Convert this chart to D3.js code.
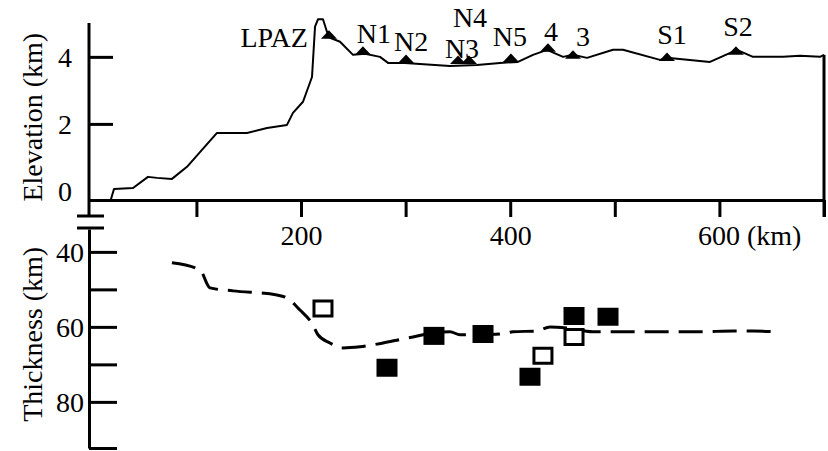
<!DOCTYPE html>
<html>
<head>
<meta charset="utf-8">
<script src="https://cdn.jsdelivr.net/npm/d3@7"></script>
<style>
  body { margin: 0; background: #fff; }
</style>
</head>
<body>
<div id="chart"></div>
<script>
// elevation profile (km along profile, km elevation)
const profileKm = [18.3, 21.2, 39.4, 53.7, 62.3, 76.6, 91.0, 103.4, 119.7, 135.0, 148.4, 167.5, 186.6,
    192.3, 201.9, 210.5, 213.4, 216.2, 221.0, 224.8, 227.7, 237.3, 249.7, 261.2, 275.5, 283.2, 299.4,
    342.4, 368.2, 390.2, 407.4, 421.8, 435.2, 450.5, 460.0, 473.4, 498.3, 507.8, 543.2, 549.9, 591.0,
    616.8, 632.1, 660.8, 677.0, 696.2, 700];
const profileElev = [-0.25, 0.06, 0.09, 0.42, 0.39, 0.36, 0.72, 1.16, 1.73, 1.73, 1.73, 1.88, 1.97,
    2.33, 2.66, 3.40, 4.90, 5.12, 5.12, 4.75, 4.57, 4.45, 4.06, 4.09, 4.00, 3.82, 3.82,
    3.73, 3.76, 3.82, 3.85, 4.06, 4.21, 4.00, 4.06, 3.97, 4.21, 4.21, 3.91, 3.97, 3.85,
    4.21, 4.00, 4.00, 4.03, 4.00, 4.06];

// stations
const stationNames = ['LPAZ', 'N1', 'N2', 'N3', 'N4', 'N5', '4', '3', 'S1', 'S2'];
const stationKm = [226.7, 259.2, 300.4, 350.1, 360.6, 400.7, 436.1, 460.0, 549.9, 615.8];
const stationElev = [4.54, 4.06, 3.82, 3.79, 3.79, 3.85, 4.15, 3.94, 3.88, 4.06];

// crustal thickness, dashed curve
const thickKm = [76.6, 103.4, 113.0, 135.0, 177.0, 186.6, 199.0, 211.4, 216.2, 227.7, 240.1, 256.4,
    278.4, 297.5, 307.1, 326.2, 342.4, 352.0, 374.0, 390.2, 402.7, 425.6, 438.0, 454.3, 479.1,
    517.4, 549.9, 581.4, 613.0, 632.1, 656.0];
const thickVal = [42.9, 44.8, 49.6, 50.4, 51.5, 52.3, 55.5, 59.5, 62.1, 64.3, 65.6, 65.3,
    64.3, 63.2, 62.7, 61.6, 61.3, 62.1, 62.1, 61.9, 61.3, 61.1, 60.0, 60.3, 61.3,
    61.3, 61.3, 61.3, 61.1, 61.1, 61.3];

// thickness estimates (squares)
const filledKm = [282.2, 327.1, 374.0, 461.0, 493.5, 418.9];
const filledVal = [70.9, 62.4, 61.9, 57.1, 57.3, 73.3];
const openKm = [221.0, 461.0, 431.3];
const openVal = [55.1, 62.7, 67.7];

const xTicks = [100, 200, 300, 400, 500, 600, 700];
const xLabels = {200: '200', 400: '400', 600: '600 (km)'};
const elevTicks = [0, 2, 4];
const thickTicks = [40, 50, 60, 70, 80, 92.3];
const thickLabels = {40: '40', 60: '60', 80: '80'};

const width = 828, height = 451;
const font = '"Liberation Serif", "Times New Roman", "DejaVu Serif", serif';
const svg = d3.select('#chart').append('svg')
    .attr('width', width)
    .attr('height', height)
    .attr('font-family', font);

svg.append('rect').attr('width', width).attr('height', height).attr('fill', '#fff');

const x = d3.scaleLinear().domain([-2.7, 700]).range([89, 824]);
const yE = d3.scaleLinear().domain([-0.27, 5.01]).range([200, 23]);
const yT = d3.scaleLinear().domain([33.9, 92.3]).range([229, 448]);

const fs = 28;

// x axis (shared, between panels)
const xAxis = svg.append('g')
    .attr('transform', `translate(0,${yE(-0.27)})`)
    .call(d3.axisBottom(x).tickValues(xTicks).tickSize(17).tickSizeOuter(0)
        .tickFormat(d => xLabels[d] || ''));
xAxis.attr('font-family', font);
xAxis.select('.domain').attr('stroke-width', 3);
xAxis.selectAll('.tick line').attr('stroke-width', 3);
xAxis.selectAll('.tick text')
    .attr('font-size', fs)
    .attr('y', 45).attr('dy', 0)
    .attr('text-anchor', d => d === 600 ? 'start' : 'middle')
    .attr('x', d => d === 600 ? -22 : 0);

// elevation axis
const eAxis = svg.append('g')
    .attr('transform', `translate(${x(-2.7)},0)`)
    .call(d3.axisRight(yE).tickValues(elevTicks).tickSize(24).tickSizeOuter(0)
        .tickFormat(d3.format('d')));
eAxis.attr('font-family', font);
eAxis.select('.domain').remove();
eAxis.selectAll('.tick line').attr('stroke-width', 3).attr('display', d => d === 0 ? 'none' : null);
eAxis.selectAll('.tick text')
    .attr('font-size', fs)
    .attr('x', -17).attr('dy', '0.35em')
    .attr('text-anchor', 'end');
eAxis.append('line')
    .attr('y1', yE(5.01)).attr('y2', 216)
    .attr('stroke', '#000').attr('stroke-width', 3);

// thickness axis
const tAxis = svg.append('g')
    .attr('transform', `translate(${x(-2.7)},0)`)
    .call(d3.axisRight(yT).tickValues(thickTicks).tickSize(28).tickSizeOuter(0)
        .tickFormat(d => thickLabels[d] || ''));
tAxis.attr('font-family', font);
tAxis.select('.domain').attr('stroke-width', 3);
tAxis.selectAll('.tick line').attr('stroke-width', 3);
tAxis.selectAll('.tick text')
    .attr('font-size', fs)
    .attr('x', -5).attr('dy', '0.35em')
    .attr('text-anchor', 'end');

// axis break marks
svg.selectAll('.brk').data([216, 228]).enter().append('line')
    .attr('x1', 77).attr('x2', 104)
    .attr('y1', d => d).attr('y2', d => d)
    .attr('stroke', '#000').attr('stroke-width', 3);

// axis titles
svg.append('text')
    .attr('transform', `translate(32,${yE(2.2)}) rotate(-90)`)
    .attr('text-anchor', 'middle').attr('dy', '0.35em')
    .attr('font-size', fs)
    .text('Elevation (km)');
svg.append('text')
    .attr('transform', `translate(32,${yT(62)}) rotate(-90)`)
    .attr('text-anchor', 'middle').attr('dy', '0.35em')
    .attr('font-size', fs)
    .text('Thickness (km)');

// elevation profile
const profile = profileKm.map((k, i) => [k, profileElev[i]]);
svg.append('path')
    .datum(profile)
    .attr('fill', 'none')
    .attr('stroke', '#000')
    .attr('stroke-width', 2)
    .attr('stroke-linejoin', 'round')
    .attr('d', d3.line().x(d => x(d[0])).y(d => yE(d[1])));

// right border at end of profile
svg.append('line')
    .attr('x1', x(700)).attr('x2', x(700))
    .attr('y1', yE(profileElev[profileElev.length - 1])).attr('y2', yE(-0.27) + 17)
    .attr('stroke', '#000').attr('stroke-width', 3);

// stations
const stations = stationNames.map((n, i) => ({name: n, km: stationKm[i], elev: stationElev[i]}));
svg.selectAll('.station').data(stations).enter().append('path')
    .attr('transform', d => `translate(${x(d.km)},${yE(d.elev)})`)
    .attr('d', 'M-8,0L0,-8.5L8,0Z')
    .attr('fill', '#000');

// station label offsets [dx, baseline y, anchor]
const labelPos = {
    'LPAZ': [-21, 47, 'end'],
    'N1': [11, 43, 'middle'],
    'N2': [5, 51, 'middle'],
    'N3': [4, 58, 'middle'],
    'N4': [1, 27, 'middle'],
    'N5': [-1, 46, 'middle'],
    '4': [3, 41, 'middle'],
    '3': [10, 46, 'middle'],
    'S1': [5, 44, 'middle'],
    'S2': [2, 36, 'middle']
};
svg.selectAll('.slabel').data(stations).enter().append('text')
    .attr('x', d => x(d.km) + labelPos[d.name][0])
    .attr('y', d => labelPos[d.name][1])
    .attr('text-anchor', d => labelPos[d.name][2])
    .attr('font-size', fs)
    .text(d => d.name);

// thickness dashed curve
const thick = thickKm.map((k, i) => [k, thickVal[i]]);
svg.append('path')
    .datum(thick)
    .attr('fill', 'none')
    .attr('stroke', '#000')
    .attr('stroke-width', 3)
    .attr('stroke-dasharray', '24,10')
    .attr('d', d3.line().x(d => x(d[0])).y(d => yT(d[1])).curve(d3.curveMonotoneX));

// squares
const sqW = 21, sqH = 18;
svg.selectAll('.filled').data(filledKm.map((k, i) => [k, filledVal[i]])).enter().append('rect')
    .attr('x', d => x(d[0]) - sqW / 2)
    .attr('y', d => yT(d[1]) - sqH / 2)
    .attr('width', sqW).attr('height', sqH)
    .attr('fill', '#000');
svg.selectAll('.open').data(openKm.map((k, i) => [k, openVal[i]])).enter().append('rect')
    .attr('x', d => x(d[0]) - (sqW - 3) / 2)
    .attr('y', d => yT(d[1]) - (sqH - 3) / 2)
    .attr('width', sqW - 3).attr('height', sqH - 3)
    .attr('fill', '#fff')
    .attr('stroke', '#000').attr('stroke-width', 3);
</script>
</body>
</html>
